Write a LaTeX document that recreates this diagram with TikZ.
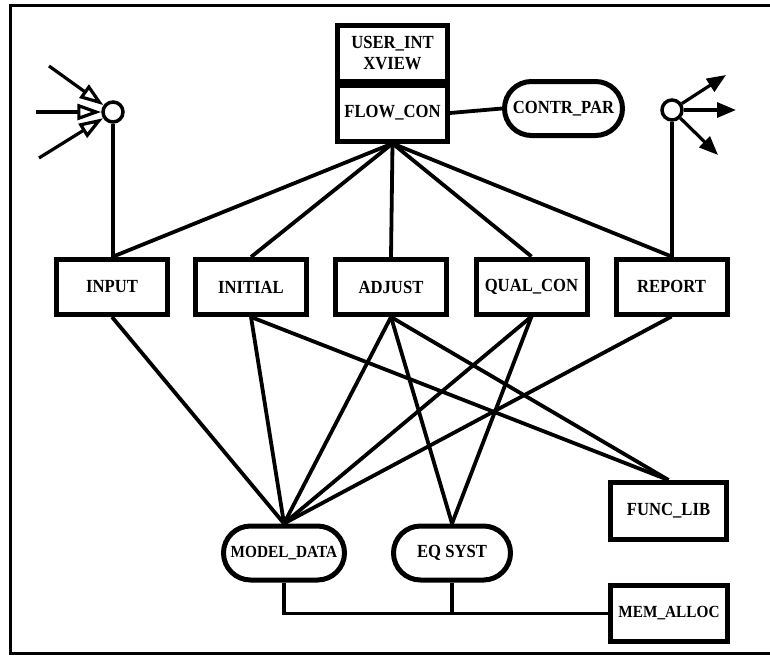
\documentclass[tikz,border=0pt]{standalone}
\usepackage{fontspec}
\setmainfont[FakeStretch=0.9]{Liberation Serif}
\usetikzlibrary{arrows.meta}
\begin{document}
\begin{tikzpicture}[x=1pt,y=-1pt,
  lbl/.style={font=\fontsize{18.5}{19}\selectfont\bfseries, inner sep=0pt},
  smalllbl/.style={font=\fontsize{17}{18}\selectfont\bfseries},
  modbox/.style={lbl, draw, line width=5pt, rectangle, minimum width=111pt, minimum height=55pt},
  storebox/.style={lbl, draw, line width=5pt, rectangle, rounded corners=27pt, minimum height=54pt},
  link/.style={line width=3.8pt},
  port/.style={draw, circle, line width=3.5pt, minimum size=20pt, inner sep=0pt},
  inflow/.style={line width=3.2pt, -{Triangle[open, length=24pt, width=16pt, line width=3.2pt]}},
  outflow/.style={line width=3.2pt, -{Triangle[length=19pt, width=15pt]}}
]
\useasboundingbox (0,0) rectangle (770,659);
% outer frame, open on the right
\draw[line width=3pt] (770,5) -- (10,5) -- (10,653) -- (770,653);

% control module with its user interface on top
\node[modbox, minimum width=110pt, minimum height=56pt, align=center] (userint) at (392.5,53) {USER\_INT\\[2pt]XVIEW};
\node[modbox, minimum width=110pt, minimum height=56pt] (flowcon) at (392.5,113) {FLOW\_CON};
\node[storebox, minimum width=118pt] (contrpar) at (563.5,108.5) {CONTR\_PAR};
\draw[link] (flowcon.east) -- (contrpar.west);

% input and output ports
\node[port] (inport) at (113,112) {};
\node[port] (outport) at (672,110) {};
\coordinate (ina) at (49,66);
\coordinate (inb) at (36,112);
\coordinate (inc) at (39,158);
\coordinate (outa) at (726,75);
\coordinate (outb) at (736,110);
\coordinate (outc) at (718,155);
\draw[inflow] (ina) -- (inport);
\draw[inflow] (inb) -- (inport);
\draw[inflow] (inc) -- (inport);
\draw[outflow] (outport) -- (outa);
\draw[outflow] (outport) -- (outb);
\draw[outflow] (outport) -- (outc);

% processing modules
\node[modbox] (input)   at (112,287)   {INPUT};
\node[modbox] (initial) at (251,287)   {INITIAL};
\node[modbox] (adjust)  at (391,287)   {ADJUST};
\node[modbox] (qualcon) at (531.5,286.5) {QUAL\_CON};
\node[modbox] (report)  at (671.5,286.5) {REPORT};

% data stores and libraries
\node[storebox, smalllbl, minimum width=121pt] (modeldata) at (284,553) {MODEL\_DATA};
\node[storebox, minimum width=117pt] (eqsyst) at (452,553) {EQ SYST};
\node[modbox, minimum width=116pt, minimum height=57pt] (funclib) at (668.5,511) {FUNC\_LIB};
\node[modbox, smalllbl, minimum width=117pt, minimum height=56pt] (memalloc) at (669,613.5) {MEM\_ALLOC};

% port links
\draw[link] (inport.south) -- (inport.south |- input.north);
\draw[link] (outport.south) -- (outport.south |- report.north);

% control links
\foreach \m in {input,initial,adjust,qualcon,report}
  \draw[link] (flowcon.south) -- (\m.north);

% data links
\draw[link] (input.south) -- (modeldata.north);
\draw[link] (initial.south) -- (modeldata.north);
\draw[link] (initial.south) -- (funclib.north);
\draw[link] (adjust.south) -- (modeldata.north);
\draw[link] (adjust.south) -- (eqsyst.north);
\draw[link] (adjust.south) -- (funclib.north);
\draw[link] (qualcon.south) -- (modeldata.north);
\draw[link] (qualcon.south) -- (eqsyst.north);
\draw[link] (report.south) -- (modeldata.north);

% memory allocation bus
\draw[link] (modeldata.south) |- (memalloc.west);
\draw[link] (eqsyst.south) -- (eqsyst.south |- memalloc.west);
\end{tikzpicture}
\end{document}
